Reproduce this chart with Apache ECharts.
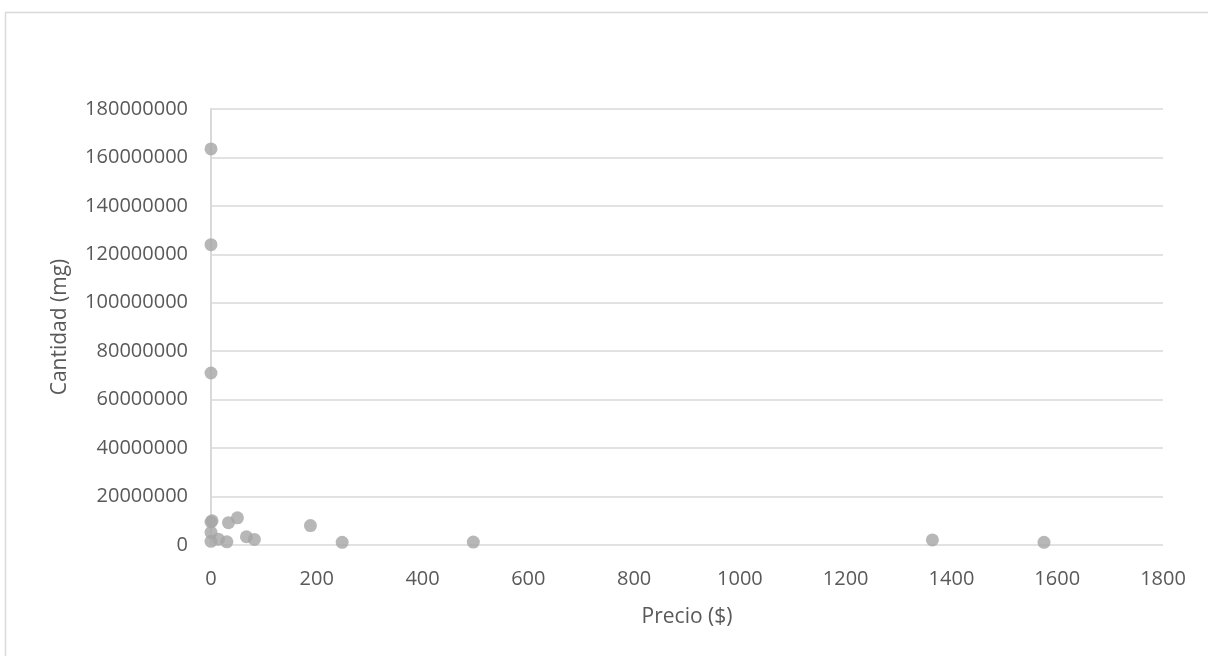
<!DOCTYPE html>
<html>
<head>
<meta charset="utf-8">
<script src="https://cdn.jsdelivr.net/npm/echarts@6/dist/echarts.min.js"></script>
<style>html,body{margin:0;padding:0;background:#fff}#c{width:1208px;height:656px}</style>
</head>
<body>
<div id="c"></div>
<script>
const prices = [0, 0, 0, 0, 2, 0, 0, 14, 33, 30, 50, 67, 82, 188, 248, 496, 1364, 1575];
const quantities = [163500000, 124000000, 71000000, 9500000, 10000000, 5200000, 1500000, 2400000, 9200000, 1300000, 11200000, 3400000, 2300000, 8000000, 1100000, 1200000, 2100000, 1100000];
const xName = 'Precio ($)';
const yName = 'Cantidad (mg)';

const data = prices.map((p, i) => [p, quantities[i]]);
const font = 'Open Sans';
const chart = echarts.init(document.getElementById('c'));
chart.setOption({
  animation: false,
  backgroundColor: '#fff',
  graphic: [{
    type: 'rect', left: 3, top: 10, silent: true,
    shape: { x: 0, y: 0, width: 1400, height: 800 },
    style: { fill: 'none', stroke: '#d9d9d9', lineWidth: 1.5 }
  }],
  grid: { left: 211, right: 45, top: 109, bottom: 111, containLabel: false },
  xAxis: {
    type: 'value', min: 0, max: 1800, interval: 200,
    name: xName, nameLocation: 'middle', nameGap: 62,
    nameTextStyle: { fontFamily: font, fontSize: 21, color: '#595959' },
    axisLine: { show: false },
    axisTick: { show: false },
    axisLabel: { fontFamily: font, fontSize: 20, color: '#595959', margin: 24, formatter: v => String(v) },
    splitLine: { show: false }
  },
  yAxis: {
    type: 'value', min: 0, max: 180000000, interval: 20000000,
    name: yName, nameLocation: 'middle', nameGap: 140,
    nameTextStyle: { fontFamily: font, fontSize: 21, color: '#595959' },
    axisLine: { show: true, onZero: false, lineStyle: { color: '#d9d9d9', width: 2 } },
    axisTick: { show: false },
    axisLabel: { fontFamily: font, fontSize: 20, color: '#595959', margin: 23, formatter: v => String(v) },
    splitLine: { show: true, lineStyle: { color: '#d9d9d9', width: 1.5 } }
  },
  series: [{
    type: 'scatter', data: data, symbol: 'circle', symbolSize: 13,
    itemStyle: { color: '#a5a5a5' }, z: 5
  }]
});
</script>
</body>
</html>
